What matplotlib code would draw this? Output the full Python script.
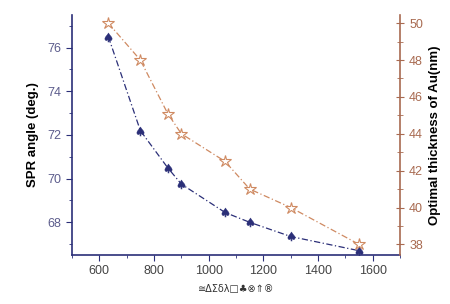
import matplotlib
matplotlib.use('Agg')
import matplotlib.pyplot as plt
from matplotlib.ticker import MultipleLocator

plt.rcParams['font.family'] = ['Liberation Sans', 'DejaVu Sans']

wavelength = [633, 750, 850, 900, 1060, 1150, 1300, 1550]
spr_angle = [76.5, 72.2, 70.5, 69.75, 68.45, 68.0, 67.35, 66.7]
thickness = [50.0, 48.0, 45.1, 44.0, 42.5, 41.0, 40.0, 38.0]
xlabel = '\u2245\u0394\u03a3\u03b4\u03bb\u25a1\u2663\u2297\u21d1\u00ae'

blue = '#2b2f78'
orange = '#cf8a62'
brown = '#a86a50'

fig = plt.figure(figsize=(4.5, 3.04), dpi=100)
ax = fig.add_axes([0.16, 0.161, 0.729, 0.79])
ax2 = ax.twinx()

ax.plot(wavelength, spr_angle, linestyle=(0, (5, 2, 1, 2)), color=blue, lw=0.9,
        marker='$\u2660$', markersize=6.5, markeredgewidth=0.3)
ax2.plot(wavelength, thickness, linestyle=(0, (5, 2, 1, 2)), color=orange, lw=0.9,
         marker='*', markersize=9, mfc='white', mec=orange, mew=0.8)

ax.set_xlim(500, 1700)
ax.set_ylim(66.5, 77.5)
ax2.set_ylim(37.42, 50.45)

ax.xaxis.set_major_locator(MultipleLocator(200))
ax.xaxis.set_minor_locator(MultipleLocator(100))
ax.yaxis.set_major_locator(MultipleLocator(2))
ax.yaxis.set_minor_locator(MultipleLocator(1))
ax2.yaxis.set_major_locator(MultipleLocator(2))
ax2.yaxis.set_minor_locator(MultipleLocator(1))

for a in (ax, ax2):
    a.spines['top'].set_visible(False)
ax.spines['left'].set_color(blue)
ax.spines['bottom'].set_color(blue)
ax.spines['right'].set_visible(False)
ax2.spines['left'].set_visible(False)
ax2.spines['bottom'].set_visible(False)
ax2.spines['right'].set_color(brown)
ax2.spines['right'].set_linewidth(1.2)
ax.spines['left'].set_linewidth(1.2)
ax.spines['bottom'].set_linewidth(1.2)

ax.tick_params(axis='x', which='both', direction='out', colors=blue, labelcolor='#444444', labelsize=9)
ax.tick_params(axis='x', which='major', length=4)
ax.tick_params(axis='x', which='minor', length=2.5)
ax.tick_params(axis='y', which='both', direction='out', colors=blue, labelcolor='#5c5c8c', labelsize=9)
ax.tick_params(axis='y', which='major', length=4)
ax.tick_params(axis='y', which='minor', length=2.5)
ax2.tick_params(axis='y', which='both', direction='inout', colors=brown, labelcolor=brown, labelsize=9)
ax2.tick_params(axis='y', which='major', length=6)
ax2.tick_params(axis='y', which='minor', length=4)

ax.set_xlabel(xlabel, fontsize=7, family=['DejaVu Sans'], color='#333333', labelpad=5)
ax.set_ylabel('SPR angle (deg.)', fontsize=9.5, fontweight='bold', labelpad=6)
ax2.set_ylabel('Optimal thickness of Au(nm)', fontsize=9.5, fontweight='bold', labelpad=4)

fig.savefig('out.png', dpi=100)
